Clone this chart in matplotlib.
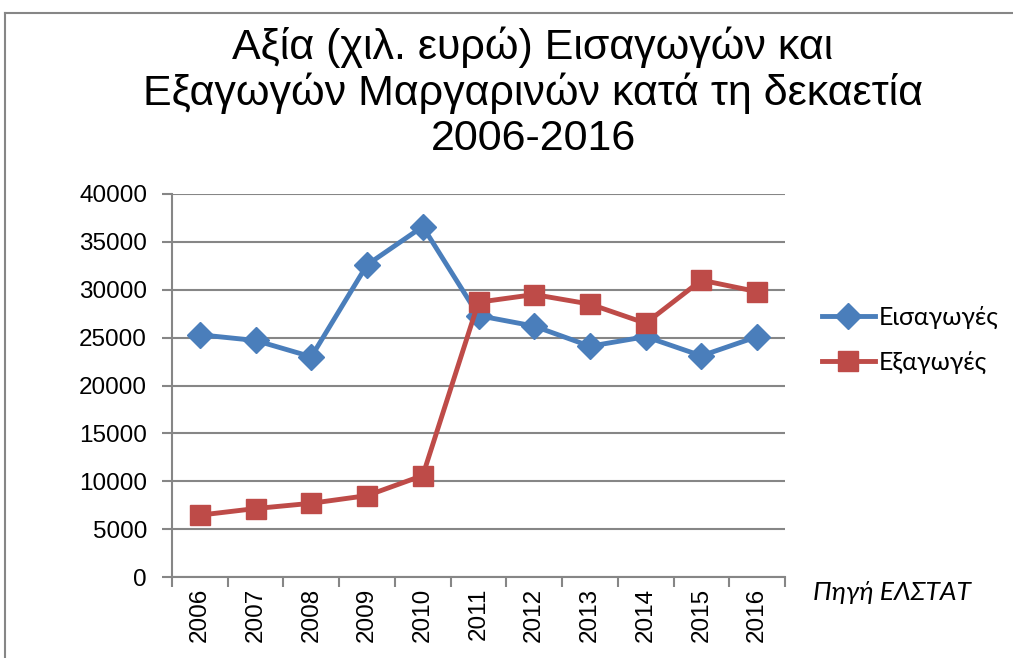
import matplotlib.pyplot as plt
from matplotlib.lines import Line2D

# δεδομένα (χιλ. ευρώ), διαβασμένα από το γράφημα
years = ['2006', '2007', '2008', '2009', '2010', '2011', '2012', '2013', '2014', '2015', '2016']
imports = [25300, 24700, 23000, 32600, 36600, 27300, 26200, 24100, 25100, 23100, 25100]
exports = [6460, 7150, 7700, 8500, 10600, 28700, 29500, 28500, 26500, 31000, 29800]
yticks = [0, 5000, 10000, 15000, 20000, 25000, 30000, 35000, 40000]

title = 'Αξία (χιλ. ευρώ) Εισαγωγών και\nΕξαγωγών Μαργαρινών κατά τη δεκαετία\n2006-2016'

blue = '#4a7ebb'
red = '#be4b48'
gray = '#868686'

W, H = 1013, 658
fig = plt.figure(figsize=(W / 100, H / 100), dpi=100)
ax = fig.add_axes([172 / W, 1 - 577 / H, (785 - 172) / W, (577 - 194) / H])

x = list(range(len(years)))
ax.plot(x, imports, color=blue, linewidth=3.5, marker='D', markersize=13.5, label='Εισαγωγές', zorder=3)
ax.plot(x, exports, color=red, linewidth=3.5, marker='s', markersize=15, label='Εξαγωγές', zorder=3)

ax.set_xlim(-0.5, len(years) - 0.5)
ax.set_ylim(0, 40000)
ax.set_yticks(yticks)
ax.set_yticklabels([str(v) for v in yticks], fontsize=17.5, family='Liberation Sans')
ax.set_xticks(x)
ax.set_xticklabels(years, rotation=90, fontsize=17.5, family='Liberation Sans')
ax.set_xticks([i - 0.5 for i in range(len(years) + 1)], minor=True)
ax.tick_params(axis='x', which='major', length=0, pad=8)
ax.tick_params(axis='x', which='minor', length=7, width=1.5, color=gray)
ax.tick_params(axis='y', length=7, width=1.5, color=gray, pad=11)

ax.grid(axis='y', color=gray, linewidth=1.5)
ax.set_axisbelow(True)
for s in ['top', 'right']:
    ax.spines[s].set_visible(False)
for s in ['left', 'bottom']:
    ax.spines[s].set_color(gray)
    ax.spines[s].set_linewidth(1.5)

fig.text(533 / W, 1 - 26 / H, title, ha='center', va='top', fontsize=31,
         family='Liberation Sans', linespacing=1.15)

leg = fig.legend(loc='center left', bbox_to_anchor=(822 / W, 1 - 340 / H), frameon=False,
                 handlelength=2.1, labelspacing=0.85, handletextpad=0.15,
                 borderpad=0, borderaxespad=0,
                 prop={'family': 'Lato', 'size': 18})

fig.text(813 / W, 1 - 593 / H, 'Πηγή ΕΛΣΤΑΤ', ha='left', va='center', fontsize=19,
         family='Lato', style='italic')

# πλαίσιο γραφήματος
fig.add_artist(Line2D([5 / W, 1], [1 - 13 / H, 1 - 13 / H], color=gray, linewidth=1.5))
fig.add_artist(Line2D([5 / W, 5 / W], [0, 1 - 13 / H], color=gray, linewidth=1.5))

fig.savefig('out.png', dpi=100)
